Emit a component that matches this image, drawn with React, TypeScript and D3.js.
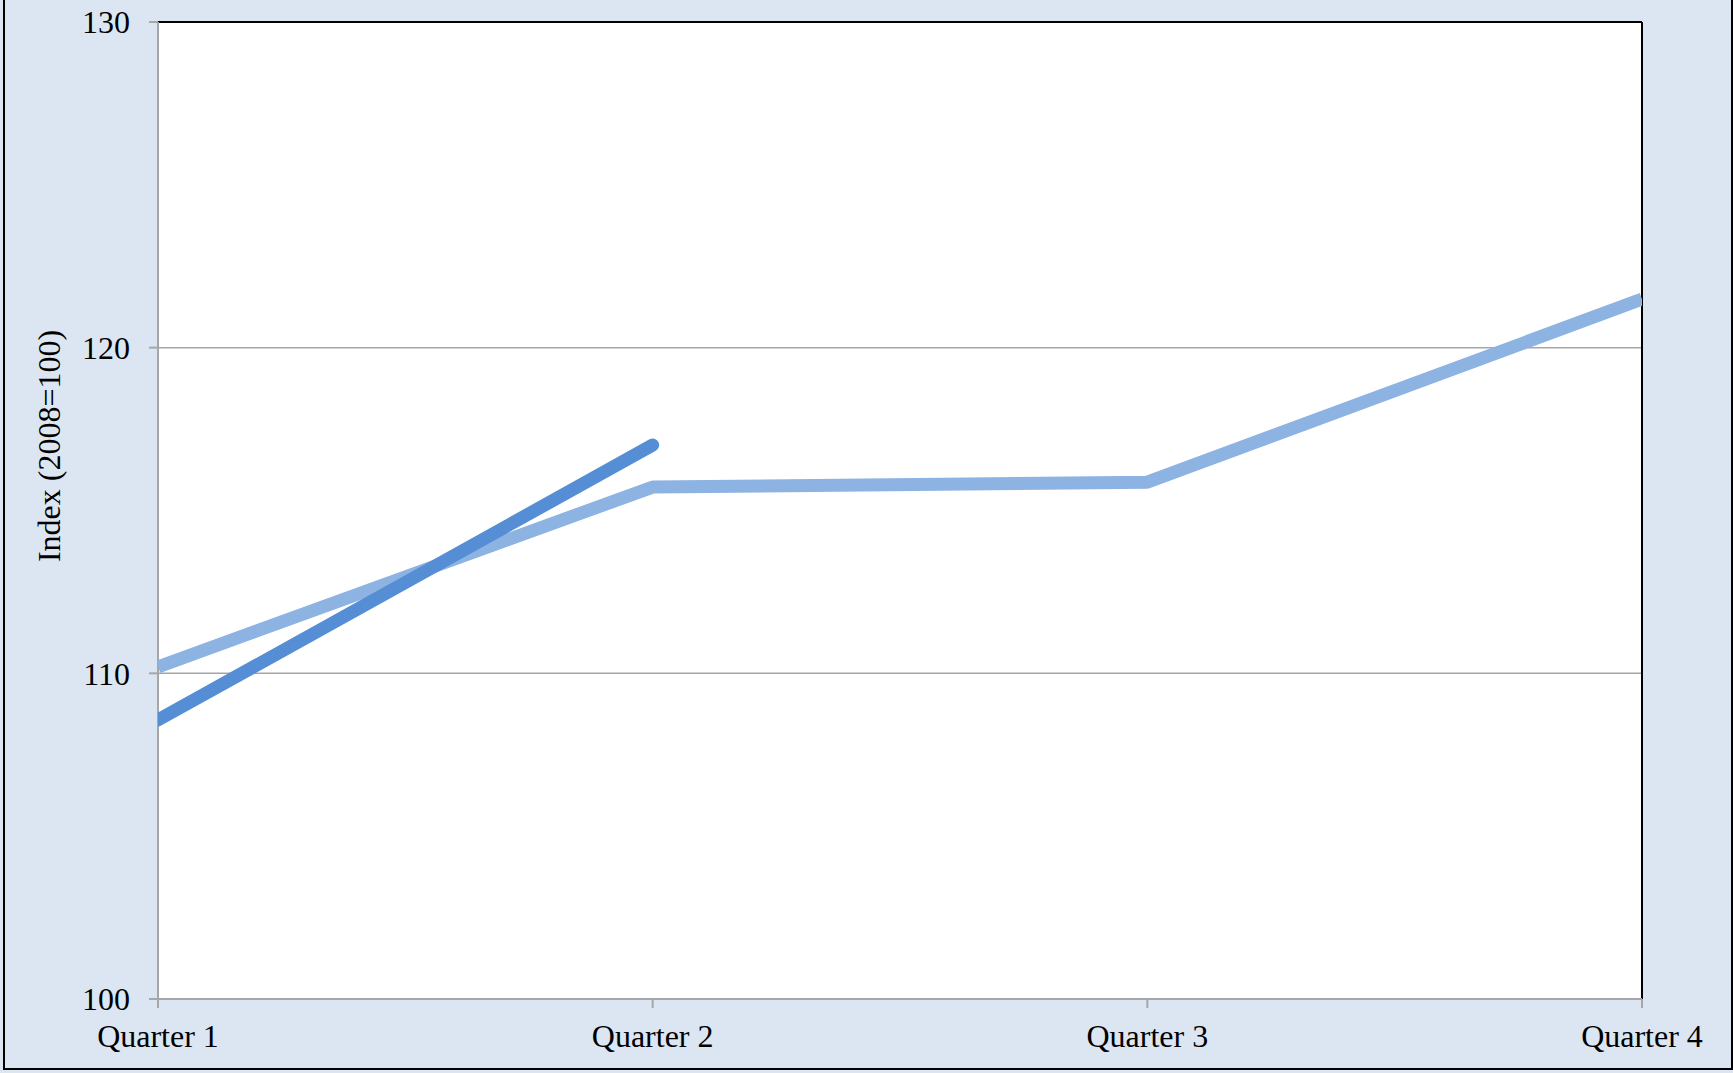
import React from "react";
import * as d3 from "d3";

const categories = ["Quarter 1", "Quarter 2", "Quarter 3", "Quarter 4"];
const seriesLight = [110.2, 115.72, 115.87, 121.49];
const seriesDark = [108.57, 117.01];
const yTicks = [100, 110, 120, 130];
const yTitle = "Index (2008=100)";

const W = 1733;
const H = 1073;
const left = 158;
const right = 1642;
const top = 22;
const bottom = 999;

export default function App() {
  const x = d3.scalePoint<string>().domain(categories).range([left, right]);
  const y = d3.scaleLinear().domain([100, 130]).range([bottom, top]);
  const line = d3
    .line<number>()
    .x((_, i) => x(categories[i]) as number)
    .y((d) => y(d));
  const font = "'Liberation Serif', 'Times New Roman', serif";

  return (
    <svg
      width={W}
      height={H}
      style={{ position: "fixed", left: 0, top: 0, display: "block" }}
    >
      <rect x={0} y={0} width={W} height={H} fill="#DCE6F2" />
      <rect x={4} y={-10} width={1728} height={1079} fill="none" stroke="#000" strokeWidth={2} />
      <rect x={left} y={top} width={right - left} height={bottom - top} fill="#fff" />
      {yTicks.slice(1, 3).map((t) => (
        <line key={t} x1={left} x2={right} y1={y(t)} y2={y(t)} stroke="#A6A6A6" strokeWidth={1.5} />
      ))}
      <line x1={left} x2={right} y1={top} y2={top} stroke="#000" strokeWidth={2} />
      <line x1={right} x2={right} y1={top} y2={bottom} stroke="#000" strokeWidth={2} />
      <line x1={left} x2={left} y1={top} y2={bottom} stroke="#A6A6A6" strokeWidth={2} />
      <line x1={left} x2={right} y1={bottom} y2={bottom} stroke="#A6A6A6" strokeWidth={2} />
      {yTicks.map((t) => (
        <g key={t}>
          <line x1={149} x2={left} y1={y(t)} y2={y(t)} stroke="#A6A6A6" strokeWidth={2} />
          <text
            x={130}
            y={y(t)}
            dy="0.35em"
            textAnchor="end"
            fontFamily={font}
            fontSize={32}
            fill="#000"
          >
            {t}
          </text>
        </g>
      ))}
      {categories.map((c) => (
        <g key={c}>
          <line
            x1={x(c) as number}
            x2={x(c) as number}
            y1={bottom}
            y2={1008}
            stroke="#A6A6A6"
            strokeWidth={2}
          />
          <text
            x={x(c) as number}
            y={1047}
            textAnchor="middle"
            fontFamily={font}
            fontSize={32}
            fill="#000"
          >
            {c}
          </text>
        </g>
      ))}
      <text
        transform={`translate(60,446) rotate(-90)`}
        textAnchor="middle"
        fontFamily={font}
        fontSize={32}
        fill="#000"
      >
        {yTitle}
      </text>
      <defs>
        <clipPath id="plotclip">
          <rect x={left} y={top} width={right - left} height={bottom - top} />
        </clipPath>
      </defs>
      <path
        d={line(seriesLight) || ""}
        fill="none"
        stroke="#8DB3E2"
        strokeWidth={13}
        strokeLinejoin="round"
        strokeLinecap="butt"
        clipPath="url(#plotclip)"
      />
      <path
        d={line(seriesDark) || ""}
        fill="none"
        stroke="#558ED5"
        strokeWidth={13}
        strokeLinejoin="round"
        strokeLinecap="round"
        clipPath="url(#plotclip)"
      />
    </svg>
  );
}
